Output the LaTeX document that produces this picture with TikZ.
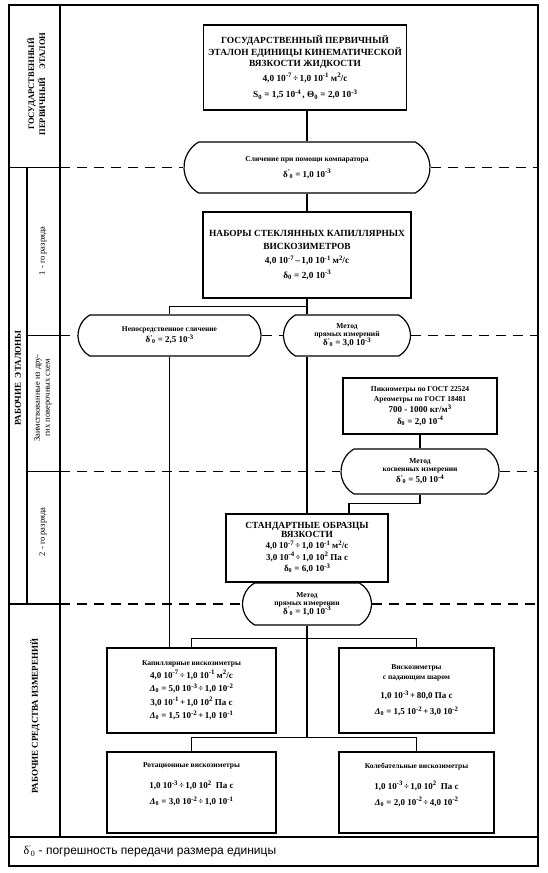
\documentclass[tikz,border=0pt]{standalone}
\usepackage{fontspec}
\setmainfont{Liberation Serif}
\setsansfont{Liberation Sans}
\usetikzlibrary{shapes.misc}

\newcommand{\sups}[1]{\raisebox{0.85ex}{\fontsize{6.8}{7}\selectfont #1}}
\newcommand{\dz}{δ\textsubscript{0}}
\newcommand{\dzp}{δ\raisebox{0.9ex}{\fontsize{6}{6}\selectfont '}\kern-0.3pt\textsubscript{0}}
\newcommand{\Dz}{{\itshape Δ}\textsubscript{0}}
\newcommand{\zag}[1]{{\fontsize{9.4}{11.5}\selectfont #1}}
\newcommand{\sm}[1]{{\fontsize{7.5}{9}\selectfont #1}}

\tikzset{
  frame/.style={line width=1.1pt},
  etalon/.style={draw, line width=1.2pt, align=center, inner sep=1pt,
    font=\bfseries\fontsize{9.3}{12.5}\selectfont},
  metod/.style={draw, line width=1.2pt, rounded rectangle,
    rounded rectangle arc length=120, align=center, inner sep=1pt,
    font=\bfseries\fontsize{9}{11}\selectfont},
  granica/.style={line width=1.3pt, dash pattern=on 10pt off 7pt},
  svyaz/.style={line width=1.1pt},
  razdel/.style={rotate=90, align=center, font=\bfseries\fontsize{9}{11}\selectfont},
  razryad/.style={rotate=90, align=center, font=\fontsize{8.5}{10}\selectfont}
}

\begin{document}
\begin{tikzpicture}[x=1pt,y=-1pt]
\useasboundingbox (0,0) rectangle (547,873);

% frame and left column
\draw[frame] (9,5) rectangle (538,837);
\draw[frame] (9,837) rectangle (538,866); % legend
\draw[frame] (60,5) -- (60,837);
\draw[frame] (9,167.5) -- (60,167.5);
\draw[frame] (9,604) -- (60,604);
\draw[frame] (27,167.5) -- (27,604);
\draw[frame] (27,335.5) -- (60,335.5);
\draw[frame] (27,471.5) -- (60,471.5);

\node[razdel, font=\bfseries\fontsize{8.5}{11}\selectfont] (l1) at (36,84) {ГОСУДАРСТВЕННЫЙ\\ПЕРВИЧНЫЙ\quad ЭТАЛОН};
\node[razdel] (l2) at (18,378) {РАБОЧИЕ\enspace ЭТАЛОНЫ};
\node[razryad] (l21) at (43,251) {1 - го разряда};
\node[razryad] (l22) at (43,398) {Заимствованные из дру-\\гих поверочных схем};
\node[razryad] (l23) at (43,532) {2 - го разряда};
\node[razdel] (l3) at (35,716) {РАБОЧИЕ СРЕДСТВА ИЗМЕРЕНИЙ};

% state primary standard
\node[etalon, minimum width=203pt, minimum height=85pt] (gpe) at (305,67.5)
  {\zag{ГОСУДАРСТВЕННЫЙ ПЕРВИЧНЫЙ}\\[-1pt] \zag{ЭТАЛОН ЕДИНИЦЫ КИНЕМАТИЧЕСКОЙ}\\[-1pt] \zag{ВЯЗКОСТИ ЖИДКОСТИ}\\[2pt]
   4,0 10\sups{-7}\,÷\,1,0 10\sups{-1} м\sups{2}/с\\[4pt]
   S\textsubscript{0} = 1,5 10\sups{-4}\,, Θ\textsubscript{0} = 2,0 10\sups{-3}};
\node[metod, minimum width=248pt, minimum height=51pt] (cmp) at (307,167.5)
  {\sm{Сличение при помощи компаратора}\\[5pt] \dzp{} = 1,0 10\sups{-3}};

% working standards, 1st rank
\node[etalon, minimum width=208pt, minimum height=86pt] (nab) at (307,255)
  {\zag{НАБОРЫ СТЕКЛЯННЫХ КАПИЛЛЯРНЫХ}\\ \zag{ВИСКОЗИМЕТРОВ}\\[2pt]
   4,0 10\sups{-7}\,–\,1,0 10\sups{-1} м\sups{2}/с\\[2pt] \dz{} = 2,0 10\sups{-3}};
\node[metod, minimum width=185pt, minimum height=41pt] (nep) at (169.5,335.5)
  {\sm{Непосредственное сличение}\\ \dzp{} = 2,5 10\sups{-3}};
\node[metod, minimum width=129pt, minimum height=41pt] (mp1) at (347,335.5)
  {\sm{Метод}\\[-3pt] \sm{прямых измерений}\\[-2pt] \dzp{} = 3,0 10\sups{-3}};

% borrowed
\node[etalon, minimum width=154pt, minimum height=56pt,
  font=\bfseries\fontsize{9}{11.5}\selectfont] (pyc) at (420,406)
  {\sm{Пикнометры по ГОСТ 22524}\\[-2pt] \sm{Ареометры по ГОСТ 18481}\\ 700 - 1000 кг/м\sups{3}\\ \dz{} = 2,0 10\sups{-4}};
\node[metod, minimum width=160pt, minimum height=45pt] (kosv) at (420,471.5)
  {\sm{Метод}\\[-3pt] \sm{косвенных измерении}\\ \dzp{} = 5,0 10\sups{-4}};

% working standards, 2nd rank
\node[etalon, minimum width=162pt, minimum height=68pt,
  font=\bfseries\fontsize{9}{11.5}\selectfont] (std) at (307,548)
  {\zag{СТАНДАРТНЫЕ ОБРАЗЦЫ}\\[-3pt] \zag{ВЯЗКОСТИ}\\
   4,0 10\sups{-7}\,÷\,1,0 10\sups{-1} м\sups{2}/с\\ 3,0 10\sups{-4}\,÷\,1,0 10\sups{2} Па с\\ \dz{} = 6,0 10\sups{-3}};
\node[metod, minimum width=131pt, minimum height=42pt] (mp2) at (307,604)
  {\sm{Метод}\\[-3pt] \sm{прямых измерении}\\[-2pt] \dzp{} = 1,0 10\sups{-3}};

% working measuring instruments
\node[etalon, minimum width=169pt, minimum height=85pt,
  font=\bfseries\fontsize{9}{13.5}\selectfont] (kap) at (191.5,690.5)
  {\sm{Капиллярные вискозиметры}\\[-1pt] 4,0 10\sups{-7}\,÷\,1,0 10\sups{-1} м\sups{2}/с\\
   \Dz{} = 5,0 10\sups{-3}\,÷\,1,0 10\sups{-2}\\ 3,0 10\sups{-1}\,+\,1,0 10\sups{2} Па с\\
   \Dz{} = 1,5 10\sups{-2}\,+\,1,0 10\sups{-1}};
\node[etalon, minimum width=155pt, minimum height=85pt,
  font=\bfseries\fontsize{9}{13}\selectfont] (fb) at (416.5,690.5)
  {\sm{Вискозиметры}\\[-3pt] \sm{с падающим шаром}\\[6pt] 1,0 10\sups{-3}\,+\,80,0 Па с\\[3pt]
   \Dz{} = 1,5 10\sups{-2}\,+\,3,0 10\sups{-2}};
\node[etalon, minimum width=169pt, minimum height=81pt,
  font=\bfseries\fontsize{9}{13}\selectfont] (rot) at (191.5,792.5)
  {\sm{Ротационные вискозиметры}\\[8pt] 1,0 10\sups{-3}\,÷\,1,0 10\sups{2}\enspace Па с\\[3pt]
   \Dz{} = 3,0 10\sups{-2}\,÷\,1,0 10\sups{-1}\\[4pt]};
\node[etalon, minimum width=155pt, minimum height=81pt,
  font=\bfseries\fontsize{9}{13}\selectfont] (kol) at (416.5,792.5)
  {\sm{Колебательные вискозиметры}\\[8pt] 1,0 10\sups{-3}\,÷\,1,0 10\sups{2}\enspace Па с\\[3pt]
   \Dz{} = 2,0 10\sups{-2}\,÷\,4,0 10\sups{-2}\\[4pt]};

% connections
\draw[svyaz] (gpe.south -| cmp.north) -- (cmp.north);
\draw[svyaz] (cmp.south) -- (nab.north);
\draw[svyaz] (nab.south) -- ++(0,8) coordinate (n1);
\draw[svyaz] (nep.north) |- (n1) -- (n1 |- mp1.north);
\draw[svyaz] (n1 |- mp1.south) -- (std.north);
\draw[svyaz] (nep.south) -- (nep.south |- kap.north);
\draw[svyaz] (pyc.south) -- (kosv.north);
\draw[svyaz] (kosv.south) -- ++(0,9) -| ([xshift=42pt]std.north);
\draw[svyaz] (std.south) -- (mp2.north);
\draw[svyaz] (mp2.south) -- ++(0,13) coordinate (r1);
\draw[svyaz] (kap.north) |- (r1) -| (fb.north);
\draw[svyaz] (r1) -- ([yshift=14pt]r1 |- rot.north) coordinate (r2);
\draw[svyaz] (rot.north) |- (r2) -| (kol.north);

% dashed borders between levels
\draw[granica] (60,167.5) -- (cmp.west);
\draw[granica] (cmp.east) -- (538,167.5);
\draw[granica] (60,335.5) -- (nep.west);
\draw[granica] (nep.east) -- (mp1.west);
\draw[granica] (mp1.east) -- (538,335.5);
\draw[granica] (60,471.5) -- (kosv.west);
\draw[granica] (kosv.east) -- (538,471.5);
\draw[granica] (60,604) -- (mp2.west);
\draw[granica] (mp2.east) -- (538,604);

\node[anchor=west, font=\sffamily\fontsize{12}{13}\selectfont] (leg) at (20,851.5)
  {{\rmfamily\dzp} - погрешность передачи размера единицы};
\end{tikzpicture}
\end{document}
